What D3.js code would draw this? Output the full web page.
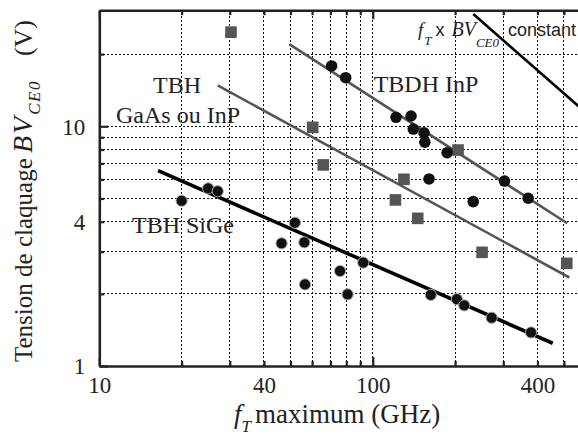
<!DOCTYPE html>
<html><head><meta charset="utf-8">
<script src="https://cdn.jsdelivr.net/npm/d3@7/dist/d3.min.js"></script>
<style>
body{margin:0;background:#fff;}
svg{display:block;}
</style></head>
<body>
<svg id="chart" width="578" height="438"></svg>
<script>
// ---- data ----
const xTickValues = [10,20,30,40,50,60,70,80,90,100,200,300,400,500];
const xTickLabels = [10,40,100,400];
const yTickValues = [1,2,3,4,5,6,7,8,9,10,20];
const yTickLabels = [1,4,10];
const xGrid = [20,30,40,50,60,70,80,90,100,200,300,400,500];
const yGrid = [2,3,4,5,6,7,8,9,10,20];

// HBT SiGe (black circles): [fT GHz, BVceo V]
const sigeF  = [20,25,27.1,46.4,51.9,56.2,56.5,75.9,80.9,92.3,163,203,216,272,379];
const sigeBV = [4.89,5.51,5.36,3.25,3.96,3.28,2.19,2.49,1.99,2.70,1.98,1.90,1.79,1.59,1.38];
// DHBT InP (black circles)
const inpF  = [70.7,79.6,121.6,138,140.6,154,155,187,160.6,233,303,370];
const inpBV = [17.85,15.95,10.9,11.04,9.74,9.40,8.58,7.76,6.03,4.85,5.91,5.01];
// HBT GaAs ou InP (grey squares)
const gaasF  = [30.3,60.3,65.9,130,121,146,205,251,512];
const gaasBV = [24.7,9.90,6.90,6.01,4.93,4.13,7.96,2.98,2.68];
// trend lines (end points)
const sigeLineF = [16.4,455],  sigeLineBV = [6.53,1.244];
const gaasLineF = [27.1,523],  gaasLineBV = [14.8,2.34];
const inpLineF  = [49.5,514],  inpLineBV  = [22.0,3.94];
const constLineF = [233,620],  constLineBV = [29.4,11.05];

// ---- drawing ----
const svg = d3.select("#chart");
const serif = "Liberation Serif, DejaVu Serif, serif";
const sans = "Liberation Sans, DejaVu Sans, sans-serif";
const x = d3.scaleLog().domain([10,600]).range([99.3,585.6]);
const y = d3.scaleLog().domain([1,30.5]).range([366,10.2]);
const X0 = x.range()[0], X1 = x.range()[1], Y0 = y.range()[0], Y1 = y.range()[1];

// grid
const grid = svg.append("g").attr("stroke","#111").attr("stroke-width",1)
  .attr("stroke-dasharray","1.6,2.4").attr("shape-rendering","crispEdges");
grid.selectAll("line.v").data(xGrid).join("line").attr("class","v")
  .attr("x1",d=>x(d)).attr("x2",d=>x(d)).attr("y1",Y0).attr("y2",Y1);
grid.selectAll("line.h").data(yGrid).join("line").attr("class","h")
  .attr("x1",X0).attr("x2",X1).attr("y1",d=>y(d)).attr("y2",d=>y(d));

// lines
const line = d3.line().x(d=>x(d[0])).y(d=>y(d[1]));
function drawLine(fs,bvs,color,w){
  svg.append("path").datum(fs.map((f,i)=>[f,bvs[i]]))
    .attr("d",line).attr("fill","none").attr("stroke",color).attr("stroke-width",w);
}
drawLine(gaasLineF,gaasLineBV,"#555",2.6);
drawLine(inpLineF,inpLineBV,"#555",2.6);
drawLine(sigeLineF,sigeLineBV,"#000",3.6);
drawLine(constLineF,constLineBV,"#000",2.6);

// markers
svg.append("g").selectAll("rect").data(gaasF.map((f,i)=>[f,gaasBV[i]])).join("rect")
  .attr("x",d=>x(d[0])-5.8).attr("y",d=>y(d[1])-5.8).attr("width",11.6).attr("height",11.6)
  .attr("fill","#555");
svg.append("g").selectAll("circle").data(inpF.map((f,i)=>[f,inpBV[i]])).join("circle")
  .attr("cx",d=>x(d[0])).attr("cy",d=>y(d[1])).attr("r",5.8).attr("fill","#111");
svg.append("g").selectAll("circle").data(sigeF.map((f,i)=>[f,sigeBV[i]])).join("circle")
  .attr("cx",d=>x(d[0])).attr("cy",d=>y(d[1])).attr("r",5.6).attr("fill","#111")
  .attr("stroke","#aaa").attr("stroke-width",1);

// axes
function styleAxis(g){
  g.attr("font-family",serif);
  g.select(".domain").attr("stroke","#222").attr("stroke-width",2.6);
  g.selectAll(".tick line").attr("stroke","#222").attr("stroke-width",2.2);
  g.selectAll("text").style("font-family",serif).attr("font-size",23).attr("fill","#222");
}
const fmtX = d => xTickLabels.includes(d) ? d : "";
const fmtY = d => yTickLabels.includes(d) ? d : "";
const gb = svg.append("g").attr("transform",`translate(0,${Y0})`)
  .call(d3.axisBottom(x).tickValues(xTickValues).tickFormat(fmtX).tickSize(-5).tickSizeOuter(0));
gb.selectAll(".tick line").attr("y2",d=>(d===10||d===100)?-9:-5);
styleAxis(gb);
gb.selectAll("text").attr("y",27).attr("dy",0);
const gt = svg.append("g").attr("transform",`translate(0,${Y1})`)
  .call(d3.axisTop(x).tickValues(xTickValues).tickFormat("").tickSize(-5).tickSizeOuter(0));
gt.selectAll(".tick line").attr("y2",d=>(d===10||d===100)?9:5);
styleAxis(gt);
const gl = svg.append("g").attr("transform",`translate(${X0},0)`)
  .call(d3.axisLeft(y).tickValues(yTickValues).tickFormat(fmtY).tickSize(-5).tickSizeOuter(0));
gl.selectAll(".tick line").attr("x2",d=>(d===1||d===10)?9:5);
styleAxis(gl);
gl.selectAll("text").attr("x",-14).attr("dy","0.34em");

// axis titles
const xt = svg.append("text").attr("x",234).attr("y",423).style("font-family",serif).attr("font-size",27).attr("fill","#222");
xt.append("tspan").attr("font-style","italic").text("f");
xt.append("tspan").attr("font-style","italic").attr("font-size",17).attr("dy",9).attr("dx",0).text("T");
xt.append("tspan").attr("dy",-9).attr("dx",4).text("maximum (GHz)");

const yt = svg.append("text").attr("transform","translate(32,0) rotate(-90)")
  .style("font-family",serif).attr("font-size",25).attr("fill","#222");
yt.append("tspan").attr("x",-362).text("Tension de claquage");
yt.append("tspan").attr("x",-153).attr("font-style","italic").attr("font-size",28).attr("letter-spacing",2).text("BV");
yt.append("tspan").attr("font-style","italic").attr("font-size",17).attr("letter-spacing",1.5).attr("dy",8).attr("dx",0).text("CE0");
yt.append("tspan").attr("x",-20).attr("text-anchor","end").attr("dy",-8).attr("font-size",26).text("(V)");

// annotations
function lab(t,xx,yy,anchor){
  svg.append("text").attr("x",xx).attr("y",yy).attr("text-anchor",anchor||"middle")
    .style("font-family",serif).attr("font-size",24).attr("fill","#222").text(t);
}
lab("TBH",177,92.5);
lab("GaAs ou InP",178,122.5);
lab("TBDH InP",426,91.5);
lab("TBH SiGe",183,232.5);

const ct = svg.append("text").attr("x",418).attr("y",36).attr("fill","#222");
ct.append("tspan").style("font-family",serif).attr("font-style","italic").attr("font-size",19).text("f");
ct.append("tspan").style("font-family",serif).attr("font-style","italic").attr("font-size",13).attr("dy",9).attr("dx",1).text("T");
ct.append("tspan").style("font-family",sans).attr("font-size",18).attr("dy",-9).attr("dx",4).text("x");
ct.append("tspan").style("font-family",serif).attr("font-style","italic").attr("font-size",20).attr("dx",7).text("BV");
ct.append("tspan").style("font-family",serif).attr("font-style","italic").attr("font-size",13).attr("dy",11).attr("dx",0).text("CE0");
ct.append("tspan").style("font-family",sans).attr("font-size",18).attr("dy",-11).attr("dx",9).text("constant");
</script>
</body></html>
